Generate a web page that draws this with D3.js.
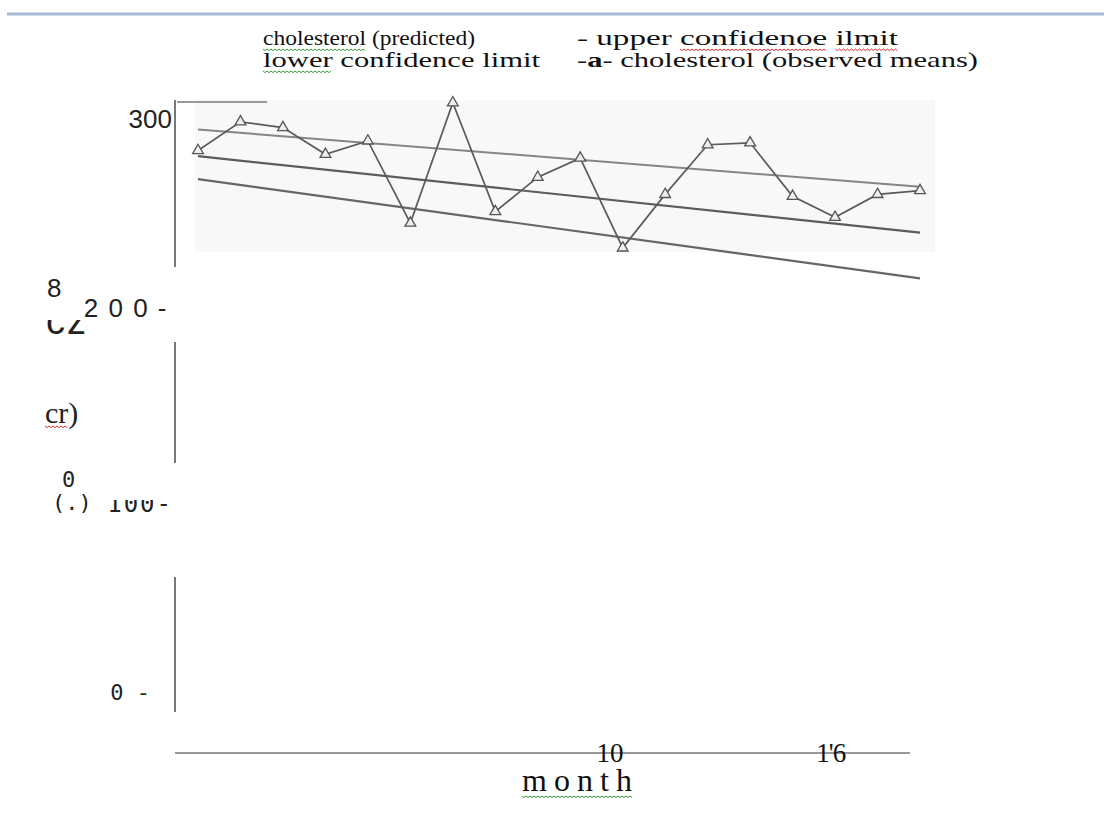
<!DOCTYPE html>
<html>
<head>
<meta charset="utf-8">
<script src="https://cdn.jsdelivr.net/npm/d3@7"></script>
<style>
body { margin: 0; background: #fff; }
</style>
</head>
<body>
<svg id="chart" width="1104" height="817"></svg>
<script>
// values
var months = [1, 2, 3, 4, 5, 6, 7, 8, 9, 10, 11, 12, 13, 14, 15, 16, 17, 18];
var observedMeans = [283, 298, 295, 281, 288, 245, 308, 251, 269, 279, 232, 260, 286, 287, 259, 248, 260, 262];
var lineMonths = [1, 18];
var predictedEnds = [280, 240];
var upperEnds = [294, 264];
var lowerEnds = [268, 216];
var yTickValues = [0, 100, 200, 300];
var yTickLabels = ["0 -", "100-", "2 0 0 -", "300"];
var xTickValues = [10.7, 15.9];
var xTickLabels = ["10", "1'6"];
var legendLeft = ["cholesterol (predicted)", "lower confidence limit"];
var legendRight = ["- upper confidenoe ilmit", "-a- cholesterol (observed means)"];
var yTitleBits = ["8", "cz", "cr)", "0", "(.)"];
var xTitle = "month";

var svg = d3.select("#chart");
var defs = svg.append("defs");
var serif = "'Liberation Serif', 'DejaVu Serif', serif";
var sans = "'Liberation Sans', Arial, sans-serif";
var mono = "'DejaVu Sans Mono', monospace";

var x = d3.scaleLinear().domain([1, 18]).range([198, 920]);
var y = d3.scaleLinear().domain([0, 300]).range([691, 118]);

// wavy spell-check underline under chars [i0, i1] of a text node
function squiggle(textNode, i0, i1, color, yy) {
	var a = textNode.getExtentOfChar(i0), b = textNode.getExtentOfChar(i1);
	var pts = [];
	for (var xx = a.x, k = 0; xx <= b.x + b.width; xx += 2, k++) {
		pts.push([xx, yy + (k % 2 ? 1.6 : 0)]);
	}
	svg.append("path").attr("d", d3.line()(pts))
		.attr("fill", "none").attr("stroke", color).attr("stroke-width", 1);
}

function addClip(id, x0, y0, w, h) {
	defs.append("clipPath").attr("id", id)
		.append("rect").attr("x", x0).attr("y", y0).attr("width", w).attr("height", h);
}

// top rule of the page
svg.append("line").attr("x1", 7).attr("x2", 1104).attr("y1", 14).attr("y2", 14)
	.attr("stroke", "#a9bad6").attr("stroke-width", 3);

// faint scan shading behind the plot
svg.append("rect").attr("x", 195).attr("y", 100).attr("width", 740).attr("height", 152)
	.attr("fill", "#f8f8f8");

// broken y axis
[[100, 267], [342, 463], [577, 712]].forEach(function(s) {
	svg.append("line").attr("x1", 175).attr("x2", 175).attr("y1", s[0]).attr("y2", s[1])
		.attr("stroke", "#777").attr("stroke-width", 2);
});
svg.append("line").attr("x1", 177).attr("x2", 267).attr("y1", 102).attr("y2", 102)
	.attr("stroke", "#999").attr("stroke-width", 2);

// x axis line
svg.append("line").attr("x1", 175).attr("x2", 910).attr("y1", 753).attr("y2", 753)
	.attr("stroke", "#999").attr("stroke-width", 2);

// y tick labels (each one came out differently in the scan)
var yLabRight = [150, 173, 168, 172];
var yLabDy = [9, 12, 8, 10];
var yLabFont = [mono, mono, sans, sans];
var yLabSize = [22, 24, 26, 26];
var yLabSpacing = [0, 2, 1.5, 0];
addClip("cut100", 100, y(100), 80, 30);
yTickValues.forEach(function(v, i) {
	var t = svg.append("text")
		.attr("x", yLabRight[i]).attr("y", y(v) + yLabDy[i])
		.attr("text-anchor", "end")
		.attr("font-family", yLabFont[i]).attr("font-size", yLabSize[i])
		.attr("letter-spacing", yLabSpacing[i])
		.attr("fill", "#222")
		.text(yTickLabels[i]);
	if (v === 100) t.attr("clip-path", "url(#cut100)");
});

// x tick labels
xTickValues.forEach(function(v, i) {
	svg.append("text").attr("x", x(v)).attr("y", 762)
		.attr("text-anchor", "middle")
		.attr("font-family", serif).attr("font-size", 27)
		.attr("letter-spacing", i ? -1 : 0)
		.attr("fill", "#111")
		.text(xTickLabels[i]);
});

// x title
var mt = svg.append("text").attr("x", 522).attr("y", 791)
	.attr("font-family", serif).attr("font-size", 32)
	.attr("textLength", 110).attr("lengthAdjust", "spacing")
	.attr("fill", "#111").text(xTitle);
squiggle(mt.node(), 0, xTitle.length - 1, "#3a9a3a", 796);

// garbled y title fragments
var ytPos = [[47, 297], [46, 334], [45, 423], [62, 487], [52, 510]];
var ytFont = [sans, sans, serif, mono, mono];
var ytSize = [26, 38, 30, 22, 22];
addClip("cutCz", 40, 320, 60, 20);
addClip("cut0", 55, 469, 30, 25);
yTitleBits.forEach(function(s, i) {
	var t = svg.append("text").attr("x", ytPos[i][0]).attr("y", ytPos[i][1])
		.attr("font-family", ytFont[i]).attr("font-size", ytSize[i])
		.attr("fill", "#222").text(s);
	if (i === 1) t.attr("letter-spacing", 2).attr("clip-path", "url(#cutCz)");
	if (i === 3) t.attr("clip-path", "url(#cut0)");
	if (i === 2) squiggle(t.node(), 0, 1, "#d33", 426);
});

// confidence band lines and prediction
var straight = d3.line().x(function(d) { return x(d[0]); }).y(function(d) { return y(d[1]); });
[[upperEnds, "#858585", 2], [predictedEnds, "#5c5c5c", 2.2], [lowerEnds, "#666", 2.2]].forEach(function(l) {
	svg.append("path")
		.attr("d", straight(lineMonths.map(function(m, i) { return [m, l[0][i]]; })))
		.attr("fill", "none").attr("stroke", l[1]).attr("stroke-width", l[2]);
});

// observed means with triangle markers
var obs = months.map(function(m, i) { return [m, observedMeans[i]]; });
svg.append("path").attr("d", straight(obs))
	.attr("fill", "none").attr("stroke", "#5a5a5a").attr("stroke-width", 1.7);
svg.selectAll(".tri").data(obs).enter().append("path")
	.attr("class", "tri")
	.attr("transform", function(d) { return "translate(" + x(d[0]) + "," + y(d[1]) + ")"; })
	.attr("d", d3.symbol(d3.symbolTriangle, 50))
	.attr("fill", "#eee").attr("stroke", "#555").attr("stroke-width", 1.3);

// legend block (scanned text, widths forced to match)
var legX = [263, 577], legY = [45, 67];
var legW = [[212, 321], [277, 401]];
[legendLeft, legendRight].forEach(function(col, c) {
	col.forEach(function(s, r) {
		var t = svg.append("text").attr("x", legX[c]).attr("y", legY[r])
			.attr("font-family", serif).attr("font-size", 22)
			.attr("textLength", legW[r][c]).attr("lengthAdjust", "spacingAndGlyphs")
			.attr("fill", "#111");
		if (c === 1 && r === 1) {
			t.append("tspan").text(s.slice(0, 1));
			t.append("tspan").attr("font-weight", "bold").text(s.slice(1, 2));
			t.append("tspan").text(s.slice(2));
		} else {
			t.text(s);
		}
		var n = t.node(), uy = legY[r] + 4;
		if (c === 0 && r === 0) squiggle(n, 0, 10, "#3a9a3a", uy);
		if (c === 0 && r === 1) squiggle(n, 0, 4, "#3a9a3a", uy);
		if (c === 1 && r === 0) {
			var i0 = s.indexOf("confidenoe"), i1 = s.indexOf("ilmit");
			squiggle(n, i0, i0 + 9, "#d33", uy);
			squiggle(n, i1, i1 + 4, "#d33", uy);
		}
	});
});
</script>
</body>
</html>
